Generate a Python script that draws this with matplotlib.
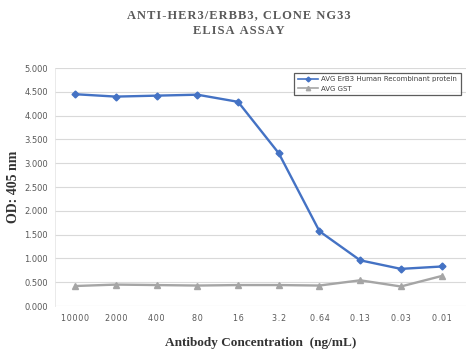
import matplotlib.pyplot as plt
import numpy as np

conc_labels = ['10000', '2000', '400', '80', '16', '3.2', '0.64', '0.13', '0.03', '0.01']
erbb3_avg = [4.45, 4.40, 4.42, 4.44, 4.29, 3.21, 1.57, 0.96, 0.78, 0.83]
gst_avg = [0.42, 0.45, 0.44, 0.43, 0.44, 0.44, 0.43, 0.54, 0.41, 0.63]

fig = plt.figure(figsize=(4.77, 3.6), dpi=100)
ax = fig.add_axes([0.115, 0.15, 0.862, 0.661])

x = np.arange(len(conc_labels))
ax.plot(x, erbb3_avg, color='#4472c4', marker='D', markersize=3.5, linewidth=1.7,
        label='AVG ErB3 Human Recombinant protein')
ax.plot(x, gst_avg, color='#a5a5a5', marker='^', markersize=4.5, linewidth=1.7,
        label='AVG GST')

ax.set_ylim(0, 5)
ax.set_yticks(np.arange(0, 5.01, 0.5))
ax.set_yticklabels(['%.3f' % v for v in np.arange(0, 5.01, 0.5)], fontsize=6, color='#595959')
ax.set_xlim(-0.5, 9.6)
ax.set_xticks(x)
ax.set_xticklabels(['\u200a'.join(l) for l in conc_labels], fontsize=5.8, color='#595959',
                   fontfamily='DejaVu Sans')
ax.tick_params(axis='x', length=0, pad=6)
ax.tick_params(axis='y', length=0, pad=5)
ax.yaxis.grid(True, color='#d9d9d9', linewidth=0.8)
ax.set_axisbelow(True)
for s in ['top', 'right', 'bottom']:
    ax.spines[s].set_visible(False)
ax.spines['left'].set_color('#e6e6e6')
ax.spines['left'].set_linewidth(0.6)

serif = 'Liberation Serif'
ax.set_ylabel('OD: 405 nm', fontfamily=serif, fontweight='bold', fontsize=10, color='#333333')
ax.yaxis.set_label_coords(-0.085, 0.5)
ax.set_xlabel('Antibody Concentration  (ng/mL)', fontfamily=serif, fontweight='bold',
              fontsize=9.5, color='#333333', labelpad=10)

fig.text(0.5, 0.957, '\u200a'.join('ANTI-HER3/ERBB3, CLONE NG33'), ha='center', va='center',
         fontfamily=[serif, 'DejaVu Serif'], fontweight='bold', fontsize=9, color='#595959')
fig.text(0.5, 0.915, '\u200a'.join('ELISA ASSAY'), ha='center', va='center',
         fontfamily=[serif, 'DejaVu Serif'], fontweight='bold', fontsize=9, color='#595959')

leg = ax.legend(loc='upper right', bbox_to_anchor=(0.995, 0.995), fontsize=5, frameon=True,
                fancybox=False, edgecolor='#333333', handlelength=3.0, handletextpad=0.4,
                borderpad=0.5, labelspacing=0.5, labelcolor='#404040', markerscale=0.7)
leg.get_frame().set_linewidth(0.9)
for line in leg.get_lines():
    line.set_linewidth(1.2)

fig.savefig('out.png', dpi=100)
